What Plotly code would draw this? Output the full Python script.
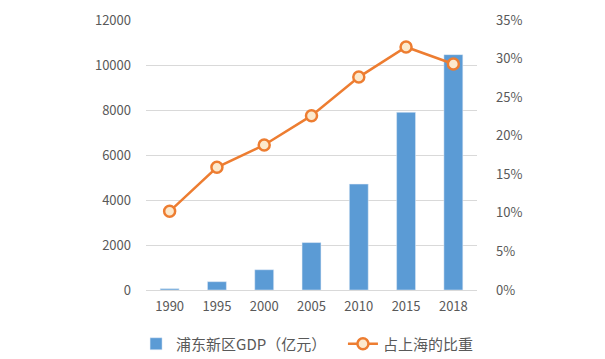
import plotly.graph_objects as go

years = ["1990", "1995", "2000", "2005", "2010", "2015", "2018"]
gdp = [60, 370, 900, 2108, 4707, 7898, 10461]
share = [10.2, 15.9, 18.8, 22.6, 27.6, 31.5, 29.3]

font_color = "#595959"
fam = "Microsoft YaHei, Noto Sans CJK SC, Liberation Sans, sans-serif"

fig = go.Figure()
fig.add_trace(go.Bar(x=years, y=gdp, name="浦东新区GDP（亿元）", marker_color="#5B9BD5",
                     width=0.4, yaxis="y", legend="legend"))
fig.add_trace(go.Scatter(x=years, y=share, name="占上海的比重", yaxis="y2",
                         mode="lines+markers", legend="legend2",
                         line=dict(color="#ED7D31", width=2.5),
                         marker=dict(size=11, color="#FCE9CD",
                                     line=dict(color="#ED7D31", width=2.5))))

leg_common = dict(orientation="h", y=-0.2, yanchor="middle",
                  font=dict(size=15, color=font_color), bgcolor="rgba(0,0,0,0)")

fig.update_layout(
    width=605, height=359,
    margin=dict(l=138, r=136, t=12, b=77, autoexpand=False),
    paper_bgcolor="white", plot_bgcolor="white",
    font=dict(family=fam, size=13, color=font_color),
    xaxis=dict(showgrid=False, showline=True, linecolor="#D9D9D9", linewidth=1,
               ticks="", tickfont=dict(size=13, color=font_color), automargin=False,
               ticklabelstandoff=4),
    yaxis=dict(range=[0, 12000], dtick=2000, tickformat="d", showgrid=True,
               gridcolor="#D9D9D9", zeroline=False, ticks="",
               tickfont=dict(size=13, color=font_color),
               ticklabelstandoff=14, automargin=False),
    yaxis2=dict(range=[0, 35], dtick=5, overlaying="y", side="right",
                showgrid=False, zeroline=False, ticksuffix="%",
                tickfont=dict(size=13, color=font_color), ticklabelstandoff=18,
                automargin=False),
    legend=dict(x=-0.03, xanchor="left", **leg_common),
    legend2=dict(x=0.595, xanchor="left", **leg_common),
    showlegend=True,
)

fig.write_html("out.html")
